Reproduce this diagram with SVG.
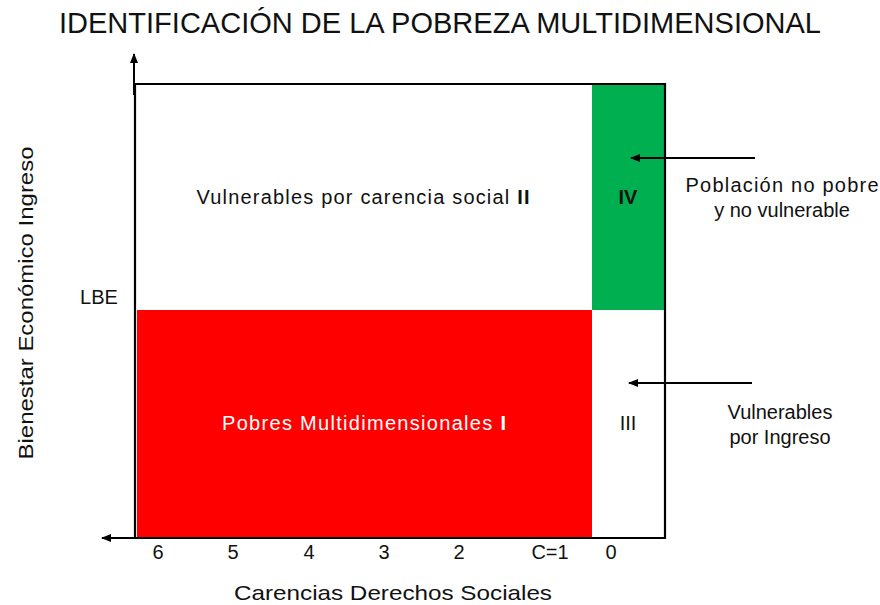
<svg xmlns="http://www.w3.org/2000/svg" width="880" height="605" viewBox="0 0 880 605">
<style>
text{font-family:"Liberation Sans",Arial,sans-serif;fill:#111;}
.l{font-size:20px;}
.n{font-size:20px;text-anchor:middle;}
.ax{stroke:#000;stroke-width:2.2;fill:none;}
.ar{stroke:#000;stroke-width:2;fill:none;}
</style>
<defs>
<marker id="ah" markerWidth="10" markerHeight="8" refX="9" refY="4" orient="auto" markerUnits="userSpaceOnUse">
<path d="M0,0 L10,4 L0,8 Z" fill="#000"/>
</marker>
</defs>
<rect width="880" height="605" fill="#fff"/>
<text x="440" y="33" font-size="30" text-anchor="middle" textLength="762" lengthAdjust="spacingAndGlyphs">IDENTIFICACIÓN  DE LA POBREZA MULTIDIMENSIONAL</text>
<g id="q1">
<rect x="137" y="310" width="455" height="228" fill="#ff0000"/>
<text x="364" y="430" class="l" style="fill:#fff" text-anchor="middle" textLength="284" lengthAdjust="spacing">Pobres  Multidimensionales  <tspan font-weight="bold">I</tspan></text>
</g>
<g id="q2">
<text x="363" y="204" class="l" text-anchor="middle" textLength="333" lengthAdjust="spacing">Vulnerables  por carencia social <tspan font-weight="bold">II</tspan></text>
</g>
<g id="q3">
<text x="628" y="430" class="n">III</text>
</g>
<g id="q4">
<rect x="592" y="84" width="73" height="226" fill="#00b050"/>
<text x="628" y="204" class="n" font-weight="bold">IV</text>
</g>
<g id="frame">
<path class="ax" d="M135,84 H665 V538 H135 Z"/>
</g>
<g id="connectors">
<line class="ar" x1="134" y1="95" x2="134" y2="54" marker-end="url(#ah)"/>
<line class="ar" x1="135" y1="538" x2="102" y2="538" marker-end="url(#ah)"/>
<line class="ar" x1="755" y1="158" x2="631" y2="158" marker-end="url(#ah)"/>
<line class="ar" x1="752" y1="383" x2="629" y2="383" marker-end="url(#ah)"/>
</g>
<g id="label-iv">
<text x="782" y="192" class="n" textLength="193" lengthAdjust="spacing">Población  no pobre</text>
<text x="782" y="217" class="n">y no vulnerable</text>
</g>
<g id="label-iii">
<text x="780" y="419" class="n">Vulnerables</text>
<text x="780" y="444" class="n">por Ingreso</text>
</g>
<g id="y-axis">
<text x="99" y="304" class="n">LBE</text>
<text transform="translate(33,303) rotate(-90)" font-size="21" text-anchor="middle" textLength="313" lengthAdjust="spacingAndGlyphs">Bienestar Económico Ingreso</text>
</g>
<g id="x-axis">
<text x="158" y="559" class="n">6</text>
<text x="233" y="559" class="n">5</text>
<text x="309" y="559" class="n">4</text>
<text x="384" y="559" class="n">3</text>
<text x="459" y="559" class="n">2</text>
<text x="550" y="559" class="n">C=1</text>
<text x="611" y="559" class="n">0</text>
<text x="393" y="600" font-size="21" text-anchor="middle" textLength="318" lengthAdjust="spacingAndGlyphs">Carencias Derechos Sociales</text>
</g>
</svg>
